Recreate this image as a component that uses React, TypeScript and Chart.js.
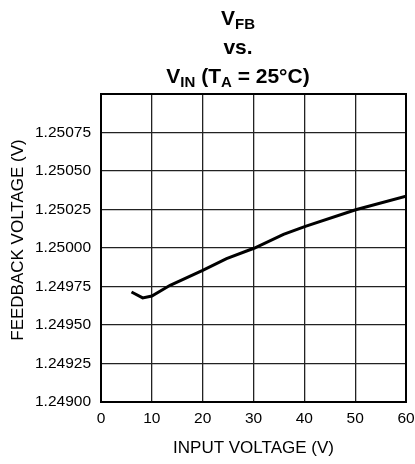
import React, { useEffect, useRef } from "react";
import { Chart, registerables } from "chart.js";

Chart.register(...registerables);

const inputVoltage = [6, 8.2, 10, 13.6, 20, 24.7, 30.2, 35.9, 40.2, 50.1, 60];
const feedbackVoltage = [
  1.249714, 1.249676, 1.249688, 1.249758, 1.249855, 1.249931, 1.25, 1.250088,
  1.25014, 1.250248, 1.250336,
];
const xTicks = [0, 10, 20, 30, 40, 50, 60];
const yMin = 1.249;
const yMax = 1.251;
const yStep = 0.00025;

const FONT = "'Liberation Sans', Arial, sans-serif";

const titlePlugin = {
  id: "subTitle",
  afterDraw(chart: any) {
    const ctx = chart.ctx;
    const cx = 238;
    ctx.save();
    ctx.fillStyle = "#000";
    ctx.textBaseline = "alphabetic";
    const big = `bold 21px ${FONT}`;
    const small = `bold 15px ${FONT}`;
    const drawParts = (parts: { t: string; sub?: boolean }[], y: number) => {
      let total = 0;
      for (const p of parts) {
        ctx.font = p.sub ? small : big;
        total += ctx.measureText(p.t).width;
      }
      let x = cx - total / 2;
      ctx.textAlign = "left";
      for (const p of parts) {
        ctx.font = p.sub ? small : big;
        ctx.fillText(p.t, x, p.sub ? y + 4 : y);
        x += ctx.measureText(p.t).width;
      }
    };
    drawParts([{ t: "V" }, { t: "FB", sub: true }], 25);
    drawParts([{ t: "vs." }], 54);
    drawParts(
      [
        { t: "V" },
        { t: "IN", sub: true },
        { t: " (T" },
        { t: "A", sub: true },
        { t: " = 25°C)" },
      ],
      83
    );
    // y-axis title
    ctx.translate(18, 240);
    ctx.rotate(-Math.PI / 2);
    ctx.font = `17px ${FONT}`;
    ctx.textAlign = "center";
    ctx.textBaseline = "middle";
    ctx.fillText("FEEDBACK VOLTAGE (V)", 0, 0);
    ctx.restore();
  },
};

export default function App() {
  const ref = useRef<HTMLCanvasElement>(null);
  useEffect(() => {
    if (!ref.current) return;
    const chart = new Chart(ref.current, {
      type: "line",
      data: {
        datasets: [
          {
            data: inputVoltage.map((x, i) => ({ x, y: feedbackVoltage[i] })),
            borderColor: "#000",
            borderWidth: 3,
            pointRadius: 0,
            tension: 0,
            fill: false,
          },
        ],
      },
      options: {
        animation: false,
        responsive: false,
        devicePixelRatio: 1,
        layout: { padding: { top: 94, right: 0, left: 0, bottom: 0 } },
        plugins: {
          legend: { display: false },
          tooltip: { enabled: false },
          title: { display: false },
        },
        scales: {
          x: {
            type: "linear",
            min: 0,
            max: 60,
            afterBuildTicks: (scale: any) => {
              scale.ticks = xTicks.map((v) => ({ value: v }));
            },
            afterFit: (scale: any) => {
              scale.height = 62;
              scale.paddingRight = 9;
              scale.paddingLeft = 0;
            },
            ticks: {
              color: "#000",
              font: { family: FONT, size: 15.5 },
              padding: 7,
              maxRotation: 0,
            },
            grid: {
              color: "#222",
              lineWidth: 1.3,
              drawTicks: false,
            },
            border: { color: "#000", width: 2 },
            title: {
              display: true,
              text: "INPUT VOLTAGE (V)",
              color: "#000",
              font: { family: FONT, size: 17 },
              padding: { top: 0, bottom: 5 },
            },
          },
          y: {
            type: "linear",
            min: yMin,
            max: yMax,
            afterFit: (scale: any) => {
              scale.width = 101;
            },
            ticks: {
              stepSize: yStep,
              color: "#000",
              font: { family: FONT, size: 15.5 },
              padding: 10,
              callback: (v: any) => (Number(v) > yMax - yStep / 2 ? "" : Number(v).toFixed(5)),
            },
            grid: {
              color: "#222",
              lineWidth: 1.3,
              drawTicks: false,
            },
            border: { color: "#000", width: 2 },
            title: { display: false },
          },
        },
      },
      plugins: [
        titlePlugin,
        {
          id: "frame",
          afterDatasetsDraw(chart: any) {
            const { ctx, chartArea: a } = chart;
            ctx.save();
            ctx.strokeStyle = "#000";
            ctx.lineWidth = 2;
            ctx.strokeRect(a.left, a.top, a.right - a.left, a.bottom - a.top);
            ctx.restore();
          },
        },
      ],
    } as any);
    return () => chart.destroy();
  }, []);
  return (
    <div style={{ position: "absolute", left: 0, top: 0, width: 415, height: 464, background: "#fff" }}>
      <canvas ref={ref} width={415} height={464} style={{ width: 415, height: 464 }} />
    </div>
  );
}
